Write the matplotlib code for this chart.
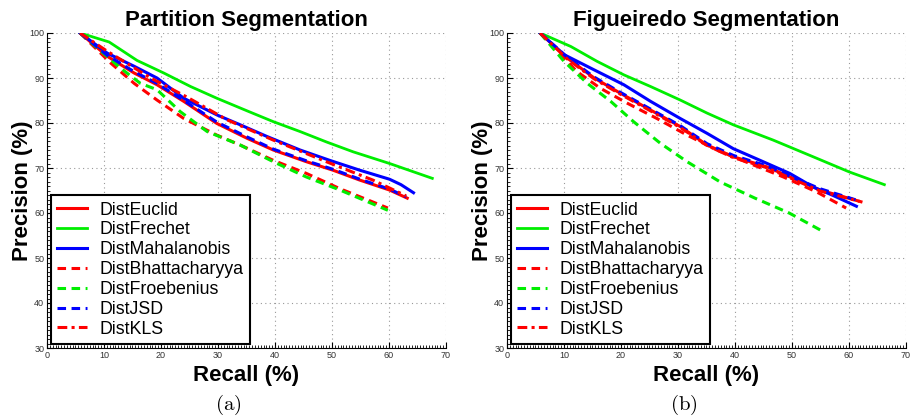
import matplotlib
matplotlib.use("Agg")
import matplotlib.pyplot as plt
from matplotlib.ticker import MultipleLocator

plt.rcParams['font.family'] = ['Liberation Sans', 'DejaVu Sans']
plt.rcParams['mathtext.fontset'] = 'cm'

names = ['DistEuclid', 'DistFrechet', 'DistMahalanobis', 'DistBhattacharyya',
         'DistFroebenius', 'DistJSD', 'DistKLS']
colors = ['#ff0000', '#00ee00', '#0000ff', '#ff0000', '#00ee00', '#0000ff', '#ff0000']
styles = ['-', '-', '-', (0, (2.8, 1.8)), (0, (2.8, 1.8)), (0, (2.8, 1.8)),
          (0, (3.2, 1.4, 1.0, 1.4))]

# Partition Segmentation (recall %, precision %)
part_euclid_x = [5.8, 10.6, 15.3, 19.3, 24.0, 29.8, 35.1, 39.7, 45.5, 50.2, 54.9, 60.1, 63.2]
part_euclid_y = [100, 94.8, 91.1, 88.5, 84.8, 79.9, 76.6, 74.0, 71.4, 69.5, 67.3, 65.1, 63.3]
part_frechet_x = [5.8, 10.9, 15.8, 20.5, 25.2, 29.8, 35.1, 39.7, 44.4, 49.0, 53.7, 60.1, 67.6]
part_frechet_y = [100, 98.0, 93.9, 91.1, 88.1, 85.5, 82.7, 80.3, 78.1, 75.8, 73.6, 71.0, 67.7]
part_mahal_x = [5.8, 10.6, 15.3, 19.3, 24.0, 29.8, 33.9, 38.6, 44.4, 49.6, 54.9, 60.1, 62.1, 64.3]
part_mahal_y = [100, 95.5, 92.6, 90.0, 85.5, 81.8, 79.6, 77.0, 74.0, 71.7, 69.5, 67.5, 66.3, 64.5]
part_bhatt_x = [5.8, 11.2, 15.3, 19.3, 24.0, 29.8, 33.9, 39.7, 45.5, 51.4, 59.8]
part_bhatt_y = [100, 93.3, 88.8, 85.1, 81.0, 77.3, 75.1, 71.7, 68.8, 65.4, 61.1]
part_froeb_x = [5.8, 12.9, 16.4, 19.3, 23.4, 28.1, 33.9, 39.7, 45.5, 51.4, 59.8]
part_froeb_y = [100, 92.2, 88.8, 87.4, 82.5, 78.1, 75.1, 71.4, 68.0, 65.1, 60.6]
part_jsd_x = [5.8, 10.6, 15.3, 19.3, 24.0, 29.8, 35.1, 39.7, 45.5, 50.2, 54.9, 60.1, 63.0]
part_jsd_y = [100, 95.0, 91.4, 88.8, 85.0, 80.2, 76.9, 74.2, 71.6, 69.7, 67.5, 65.3, 63.6]
part_kls_x = [5.8, 10.5, 18.2, 24.5, 31.6, 39.7, 49.0, 57.2, 63.0]
part_kls_y = [100, 96.0, 90.0, 85.8, 80.7, 76.2, 71.4, 67.3, 63.8]

# Figueiredo Segmentation
fig_euclid_x = [5.8, 10.6, 15.3, 19.9, 24.6, 30.4, 35.1, 39.7, 45.5, 50.2, 54.9, 62.1]
fig_euclid_y = [100, 94.4, 90.0, 86.6, 83.3, 79.2, 75.1, 72.5, 70.3, 67.7, 65.1, 62.5]
fig_frechet_x = [5.8, 11.2, 15.8, 20.5, 25.2, 30.4, 35.1, 39.7, 46.7, 53.7, 60.1, 66.2]
fig_frechet_y = [100, 97.0, 93.7, 90.7, 88.1, 85.1, 82.2, 79.6, 76.2, 72.5, 69.1, 66.3]
fig_mahal_x = [5.8, 10.0, 15.3, 20.5, 25.2, 30.4, 35.1, 39.7, 44.4, 49.6, 53.7, 57.2, 61.3]
fig_mahal_y = [100, 95.2, 91.8, 88.5, 84.8, 81.0, 77.7, 74.3, 71.7, 68.8, 65.8, 63.9, 61.5]
fig_bhatt_x = [5.8, 12.3, 16.4, 21.1, 26.3, 31.6, 36.8, 42.6, 48.5, 54.3, 59.5]
fig_bhatt_y = [100, 91.4, 87.7, 84.4, 81.0, 77.3, 74.0, 71.0, 68.0, 64.7, 61.1]
fig_froeb_x = [5.8, 10.0, 14.1, 18.2, 22.2, 26.9, 31.6, 37.4, 43.5, 49.5, 55.0]
fig_froeb_y = [100, 93.7, 88.8, 84.8, 80.3, 75.5, 71.4, 66.9, 63.3, 60.0, 56.2]
fig_jsd_x = [5.8, 10.6, 15.3, 19.9, 24.6, 30.4, 35.1, 39.7, 45.5, 50.2, 54.9, 61.5]
fig_jsd_y = [100, 94.6, 90.2, 86.8, 83.5, 79.4, 75.4, 72.8, 70.5, 67.9, 65.4, 62.8]
fig_kls_x = [5.8, 10.6, 15.3, 19.9, 24.6, 30.4, 35.1, 39.7, 45.5, 50.2, 54.9, 61.8]
fig_kls_y = [100, 94.2, 89.8, 86.4, 83.1, 79.0, 75.0, 72.3, 70.1, 67.5, 64.9, 62.6]

panels = [
    ("Partition Segmentation", "(a)",
     [(part_euclid_x, part_euclid_y), (part_frechet_x, part_frechet_y),
      (part_mahal_x, part_mahal_y), (part_bhatt_x, part_bhatt_y),
      (part_froeb_x, part_froeb_y), (part_jsd_x, part_jsd_y),
      (part_kls_x, part_kls_y)]),
    ("Figueiredo Segmentation", "(b)",
     [(fig_euclid_x, fig_euclid_y), (fig_frechet_x, fig_frechet_y),
      (fig_mahal_x, fig_mahal_y), (fig_bhatt_x, fig_bhatt_y),
      (fig_froeb_x, fig_froeb_y), (fig_jsd_x, fig_jsd_y),
      (fig_kls_x, fig_kls_y)]),
]

fig = plt.figure(figsize=(9.12, 4.2), dpi=100)
lefts = [47 / 912, 507 / 912]

for i, (title, tag, curves) in enumerate(panels):
    ax = fig.add_axes([lefts[i], 72 / 420, 399 / 912, 315 / 420])
    for (x, y), name, c, ls in zip(curves, names, colors, styles):
        lw = 2.0 if name == 'DistFrechet' else 2.2
        ax.plot(x, y, color=c, linestyle=ls, linewidth=lw, label=name)

    ax.set_xlim(0, 70)
    ax.set_ylim(30, 100)
    ax.xaxis.set_major_locator(MultipleLocator(10))
    ax.yaxis.set_major_locator(MultipleLocator(10))
    ax.xaxis.set_minor_locator(MultipleLocator(0.5))
    ax.yaxis.set_minor_locator(MultipleLocator(1))
    ax.tick_params(which='major', direction='in', length=4, labelsize=6.5, pad=2,
                   labelcolor='#333333')
    ax.tick_params(which='minor', direction='in', length=2)
    ax.spines['top'].set_visible(False)
    ax.spines['right'].set_visible(False)
    ax.grid(True, which='major', linestyle=(0, (1, 3)), color='#999999', linewidth=0.8)

    ax.set_title(title, fontsize=16, fontweight='bold', pad=5)
    ax.set_xlabel("Recall (%)", fontsize=16, fontweight='bold', labelpad=4)
    ax.set_ylabel("Precision (%)", fontsize=16, fontweight='bold', labelpad=-3)

    leg = ax.legend(loc='lower left', bbox_to_anchor=(0.01, 0.013), borderaxespad=0,
                    fontsize=12.8, fancybox=False, framealpha=1, handlelength=1.7,
                    labelspacing=0.16, borderpad=0.35, handletextpad=0.7)
    leg.get_frame().set_edgecolor('black')
    leg.get_frame().set_linewidth(1.5)

    fig.text((i * 456 + 228) / 912, 15 / 420, r'$\mathrm{' + tag + '}$',
             ha='center', va='center', fontsize=15)

fig.savefig("out.png", dpi=100)
